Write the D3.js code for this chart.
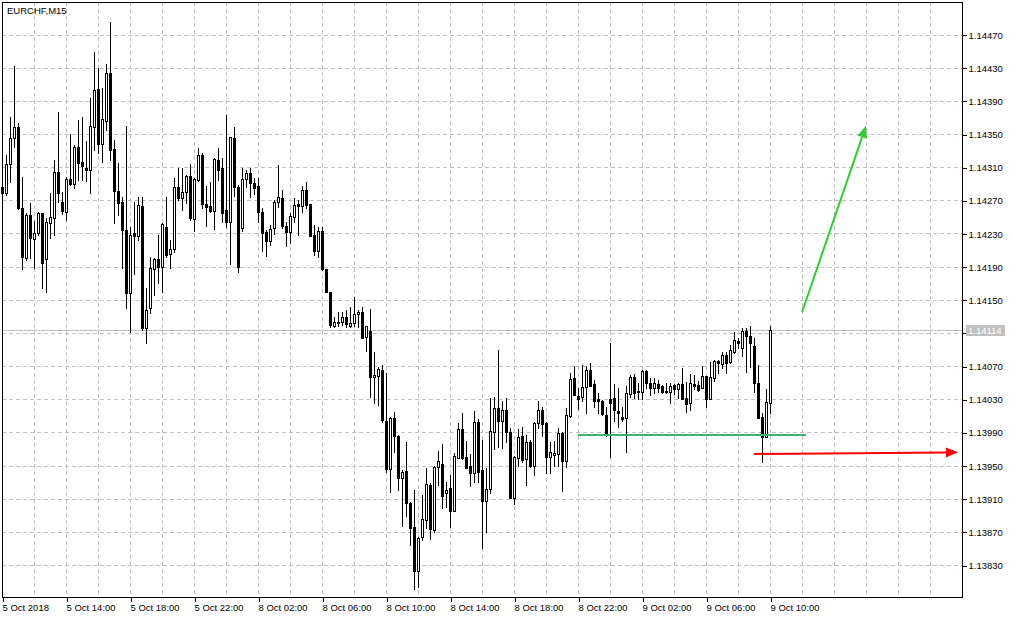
<!DOCTYPE html>
<html>
<head>
<meta charset="utf-8">
<title>EURCHF,M15</title>
<script src="https://cdn.jsdelivr.net/npm/d3@7"></script>
<style>
  body { margin: 0; background: #fff; }
  svg { display: block; font-family: "Liberation Sans", Arial, sans-serif; }
</style>
</head>
<body>
<svg id="drawing_region"></svg>
<script>
const symbolTitle = "EURCHF,M15";

// bottom labels, one every 16 bars (4 hours of M15)
const timeLabels = ["5 Oct 2018", "5 Oct 14:00", "5 Oct 18:00", "5 Oct 22:00", "8 Oct 02:00", "8 Oct 06:00",
    "8 Oct 10:00", "8 Oct 14:00", "8 Oct 18:00", "8 Oct 22:00", "9 Oct 02:00", "9 Oct 06:00", "9 Oct 10:00"];

const priceTicks = [1.14470, 1.14430, 1.14390, 1.14350, 1.14310, 1.14270, 1.14230, 1.14190, 1.14150,
    1.14110, 1.14070, 1.14030, 1.13990, 1.13950, 1.13910, 1.13870, 1.13830];

const opens = [
    1.14286,1.14279,1.14314,1.14345,1.14359,1.14261,1.14200,1.14252,1.14223,1.14231,
    1.14255,1.14199,1.14243,1.14249,1.14304,1.14268,1.14256,1.14296,1.14290,1.14334,
    1.14316,1.14309,1.14307,1.14359,1.14404,1.14338,1.14366,1.14424,1.14332,1.14281,
    1.14268,1.14234,1.14158,1.14231,1.14227,1.14263,1.14116,1.14140,1.14187,1.14199,
    1.14190,1.14238,1.14205,1.14211,1.14286,1.14273,1.14280,1.14299,1.14247,1.14295,
    1.14325,1.14266,1.14263,1.14257,1.14319,1.14309,1.14258,1.14244,1.14345,1.14286,
    1.14237,1.14296,1.14303,1.14291,1.14287,1.14256,1.14232,1.14221,1.14237,1.14268,
    1.14273,1.14239,1.14232,1.14250,1.14266,1.14263,1.14282,1.14266,1.14228,1.14209,
    1.14233,1.14187,1.14159,1.14118,1.14122,1.14123,1.14129,1.14118,1.14122,1.14133,
    1.14135,1.14105,1.14112,1.14057,1.14058,1.14065,1.14004,1.13946,1.14007,1.13986,
    1.13935,1.13943,1.13905,1.13876,1.13823,1.13864,1.13884,1.13926,1.13872,1.13948,
    1.13952,1.13917,1.13923,1.13895,1.13959,1.13994,1.13960,1.13949,1.13941,1.14003,
    1.13945,1.13907,1.13922,1.13990,1.14019,1.14004,1.14017,1.13990,1.13911,1.13959,
    1.13986,1.13958,1.13978,1.13949,1.14001,1.14017,1.14001,1.13960,1.13963,1.13964,
    1.13989,1.13955,1.14010,1.14056,1.14034,1.14033,1.14045,1.14065,1.14048,1.14030,
    1.14028,1.14011,1.14030,1.14031,1.14016,1.14009,1.14007,1.14036,1.14057,1.14040,
    1.14039,1.14064,1.14050,1.14044,1.14048,1.14046,1.14040,1.14039,1.14047,1.14042,
    1.14048,1.14031,1.14025,1.14048,1.14047,1.14044,1.14058,1.14030,1.14056,1.14076,
    1.14073,1.14083,1.14075,1.14087,1.14100,1.14092,1.14112,1.14106,1.14094,1.14050,
    1.14009,1.13984,1.14025];

const highs = [
    1.14291,1.14325,1.14371,1.14432,1.14363,1.14298,1.14255,1.14267,1.14245,1.14256,
    1.14255,1.14249,1.14279,1.14319,1.14377,1.14280,1.14298,1.14350,1.14337,1.14367,
    1.14371,1.14342,1.14393,1.14449,1.14430,1.14406,1.14435,1.14485,1.14343,1.14315,
    1.14274,1.14360,1.14238,1.14268,1.14274,1.14274,1.14164,1.14202,1.14200,1.14228,
    1.14243,1.14274,1.14222,1.14297,1.14309,1.14309,1.14301,1.14314,1.14297,1.14333,
    1.14327,1.14287,1.14292,1.14321,1.14333,1.14321,1.14373,1.14346,1.14359,1.14289,
    1.14309,1.14307,1.14309,1.14297,1.14297,1.14261,1.14234,1.14240,1.14270,1.14313,
    1.14282,1.14244,1.14255,1.14273,1.14270,1.14287,1.14292,1.14266,1.14240,1.14238,
    1.14238,1.14187,1.14159,1.14129,1.14135,1.14135,1.14138,1.14141,1.14153,1.14138,
    1.14141,1.14118,1.14139,1.14087,1.14069,1.14071,1.14062,1.14009,1.14015,1.13987,
    1.13945,1.13978,1.13906,1.13920,1.13864,1.13914,1.13947,1.13929,1.13949,1.13967,
    1.13976,1.13930,1.13939,1.13965,1.14001,1.14013,1.13980,1.13964,1.14016,1.14006,
    1.13981,1.13947,1.14031,1.14033,1.14089,1.14028,1.14031,1.13995,1.13961,1.13994,
    1.13996,1.13987,1.13981,1.14002,1.14028,1.14021,1.14002,1.13978,1.13980,1.13995,
    1.13990,1.14019,1.14062,1.14070,1.14044,1.14071,1.14070,1.14074,1.14053,1.14038,
    1.14029,1.14021,1.14098,1.14048,1.14044,1.14021,1.14046,1.14059,1.14060,1.14050,
    1.14065,1.14065,1.14056,1.14056,1.14053,1.14047,1.14050,1.14050,1.14048,1.14050,
    1.14068,1.14051,1.14060,1.14059,1.14052,1.14070,1.14058,1.14075,1.14077,1.14077,
    1.14087,1.14087,1.14095,1.14111,1.14104,1.14116,1.14116,1.14118,1.14104,1.14071,
    1.14013,1.14042,1.14118];

const lows = [
    1.14275,1.14276,1.14292,1.14334,1.14259,1.14187,1.14198,1.14200,1.14188,1.14228,
    1.14164,1.14159,1.14225,1.14228,1.14268,1.14254,1.14246,1.14289,1.14285,1.14295,
    1.14295,1.14293,1.14279,1.14331,1.14327,1.14316,1.14355,1.14319,1.14243,1.14252,
    1.14188,1.14140,1.14111,1.14181,1.14222,1.14114,1.14098,1.14134,1.14156,1.14170,
    1.14159,1.14202,1.14188,1.14208,1.14270,1.14258,1.14267,1.14246,1.14233,1.14293,
    1.14261,1.14239,1.14256,1.14235,1.14295,1.14244,1.14238,1.14193,1.14275,1.14184,
    1.14233,1.14286,1.14274,1.14278,1.14244,1.14209,1.14203,1.14216,1.14229,1.14262,
    1.14237,1.14215,1.14219,1.14244,1.14228,1.14256,1.14261,1.14227,1.14204,1.14202,
    1.14186,1.14159,1.14117,1.14117,1.14118,1.14120,1.14117,1.14117,1.14118,1.14117,
    1.14104,1.14088,1.14033,1.14025,1.14023,1.14003,1.13942,1.13918,1.13966,1.13920,
    1.13877,1.13889,1.13854,1.13801,1.13803,1.13860,1.13875,1.13861,1.13870,1.13926,
    1.13899,1.13900,1.13876,1.13895,1.13959,1.13958,1.13947,1.13925,1.13930,1.13930,
    1.13850,1.13870,1.13917,1.13970,1.13972,1.13971,1.13978,1.13911,1.13904,1.13949,
    1.13954,1.13926,1.13948,1.13939,1.13995,1.13986,1.13941,1.13941,1.13949,1.13949,
    1.13919,1.13948,1.14009,1.14035,1.14018,1.14028,1.14013,1.14046,1.14021,1.14013,
    1.14011,1.13986,1.13960,1.14004,1.13997,1.14004,1.13966,1.14033,1.14031,1.14030,
    1.14030,1.14044,1.14035,1.14037,1.14039,1.14037,1.14037,1.14025,1.14036,1.14031,
    1.14030,1.14015,1.14017,1.14042,1.14040,1.14044,1.14021,1.14030,1.14052,1.14062,
    1.14068,1.14062,1.14074,1.14086,1.14092,1.14082,1.14063,1.14069,1.14039,1.14007,
    1.13954,1.13984,1.14013];

const closes = [
    1.14279,1.14314,1.14345,1.14359,1.14261,1.14202,1.14252,1.14225,1.14231,1.14255,
    1.14194,1.14244,1.14250,1.14304,1.14279,1.14257,1.14296,1.14290,1.14334,1.14315,
    1.14311,1.14307,1.14360,1.14403,1.14338,1.14368,1.14424,1.14331,1.14281,1.14267,
    1.14234,1.14158,1.14228,1.14227,1.14264,1.14116,1.14138,1.14188,1.14199,1.14190,
    1.14241,1.14204,1.14211,1.14286,1.14273,1.14280,1.14299,1.14249,1.14296,1.14325,
    1.14266,1.14262,1.14257,1.14320,1.14307,1.14255,1.14244,1.14346,1.14286,1.14190,
    1.14296,1.14303,1.14291,1.14285,1.14256,1.14231,1.14221,1.14235,1.14268,1.14274,
    1.14239,1.14232,1.14251,1.14264,1.14263,1.14282,1.14264,1.14227,1.14209,1.14233,
    1.14187,1.14159,1.14120,1.14123,1.14123,1.14129,1.14121,1.14122,1.14133,1.14135,
    1.14104,1.14118,1.14057,1.14059,1.14066,1.14005,1.13946,1.14007,1.13986,1.13935,
    1.13942,1.13905,1.13875,1.13823,1.13862,1.13885,1.13928,1.13873,1.13948,1.13955,
    1.13913,1.13920,1.13895,1.13961,1.13994,1.13959,1.13947,1.13941,1.14003,1.13942,
    1.13907,1.13922,1.13992,1.14019,1.14004,1.14017,1.13990,1.13911,1.13960,1.13984,
    1.13957,1.13978,1.13949,1.14001,1.14017,1.14000,1.13960,1.13966,1.13965,1.13989,
    1.13955,1.14011,1.14054,1.14035,1.14030,1.14045,1.14065,1.14046,1.14028,1.14028,
    1.14012,1.13988,1.14025,1.14017,1.14013,1.14006,1.14038,1.14057,1.14038,1.14039,
    1.14064,1.14050,1.14044,1.14050,1.14044,1.14039,1.14039,1.14046,1.14042,1.14048,
    1.14030,1.14024,1.14050,1.14046,1.14041,1.14058,1.14030,1.14057,1.14076,1.14074,
    1.14083,1.14074,1.14089,1.14101,1.14098,1.14112,1.14106,1.14098,1.14050,1.14007,
    1.13984,1.14027,1.14114];

const lastPrice = 1.14114;

// drawn objects: [bar index, price] pairs
const levelLine = [[144, 1.13987], [201, 1.13987]];
const upArrow = [[200, 1.14135], [216, 1.14360]];
const downArrow = [[188, 1.13964], [239, 1.13966]];

class CandleChart {

    constructor( config ) {
        this.config = config;
        this.data = opens.map( (o, i) => ({ i: i, o: o, h: highs[i], l: lows[i], c: closes[i] }) );
        this.init();
    }

    init() {
        let self = this;
        const c = self.config;

        self.svg = d3.select( c.parent )
            .attr('width', c.width)
            .attr('height', c.height);

        self.svg.append('rect')
            .attr('width', c.width).attr('height', c.height)
            .attr('fill', '#fff');

        // bar index -> pixel, 4px per bar
        self.xscale = d3.scaleLinear()
            .domain([0, 240])
            .range([c.left, c.right]);

        self.yscale = d3.scaleLinear()
            .domain([1.13830, 1.14470])
            .range([565, 34.6]);

        self.grid = self.svg.append('g').attr('shape-rendering', 'crispEdges');
        self.chart = self.svg.append('g').attr('shape-rendering', 'crispEdges');
        self.objects = self.svg.append('g');
        self.frame = self.svg.append('g').attr('shape-rendering', 'crispEdges');
    }

    update() {
        this.render();
    }

    render() {
        let self = this;
        const c = self.config;
        const X = i => Math.round( self.xscale(i) );
        const Y = p => Math.round( self.yscale(p) );

        // dashed grid
        self.grid.selectAll('.hgrid')
            .data(priceTicks)
            .join('line')
            .attr('class', 'hgrid')
            .attr('x1', c.left).attr('x2', c.right)
            .attr('y1', d => Y(d) + 0.5).attr('y2', d => Y(d) + 0.5)
            .attr('stroke', '#c0c0c0')
            .attr('stroke-dasharray', '4,3');

        self.grid.selectAll('.vgrid')
            .data(d3.range(8, 240, 8))
            .join('line')
            .attr('class', 'vgrid')
            .attr('x1', d => X(d) + 0.5).attr('x2', d => X(d) + 0.5)
            .attr('y1', c.top).attr('y2', c.bottom)
            .attr('stroke', '#c0c0c0')
            .attr('stroke-dasharray', '4,3');

        // last price line
        self.grid.append('line')
            .attr('x1', c.left).attr('x2', c.right)
            .attr('y1', Y(lastPrice) + 0.5).attr('y2', Y(lastPrice) + 0.5)
            .attr('stroke', '#c0c0c0');

        // candles
        const candle = self.chart.selectAll('g.candle')
            .data(self.data)
            .join('g')
            .attr('class', 'candle');

        candle.append('line')
            .attr('x1', d => X(d.i) + 0.5).attr('x2', d => X(d.i) + 0.5)
            .attr('y1', d => Y(d.h)).attr('y2', d => Y(d.l) + 1)
            .attr('stroke', '#000');

        candle.filter(d => d.c <= d.o).append('rect')
            .attr('x', d => X(d.i) - 1)
            .attr('y', d => Y(d.o))
            .attr('width', 3)
            .attr('height', d => Y(d.c) - Y(d.o) + 1)
            .attr('fill', '#000');

        candle.filter(d => d.c > d.o).append('rect')
            .attr('x', d => X(d.i) - 0.5)
            .attr('y', d => Y(d.c) + 0.5)
            .attr('width', 2)
            .attr('height', d => Math.max(Y(d.o) - Y(d.c), 1))
            .attr('fill', '#fff')
            .attr('stroke', '#000');

        // user objects
        self.objects.append('line')
            .attr('x1', X(levelLine[0][0])).attr('x2', X(levelLine[1][0]))
            .attr('y1', Y(levelLine[0][1])).attr('y2', Y(levelLine[1][1]))
            .attr('stroke', '#3cb371')
            .attr('stroke-width', 2);

        self.drawArrow(upArrow, '#32cd32');
        self.drawArrow(downArrow, '#ff0000');

        // frame
        self.frame.append('rect')
            .attr('x', c.left + 0.5).attr('y', c.top + 0.5)
            .attr('width', c.right - c.left).attr('height', c.bottom - c.top)
            .attr('fill', 'none')
            .attr('stroke', '#000');

        // price axis; the tick hidden under the last price tag gets no label
        const fmt = d3.format('.5f');
        const yaxis = d3.axisRight(self.yscale)
            .tickValues(priceTicks)
            .tickFormat(fmt)
            .tickSize(4)
            .tickPadding(2);

        const yg = self.frame.append('g')
            .attr('transform', `translate(${c.right + 0.5}, 0.5)`)
            .call(yaxis);
        yg.select('.domain').remove();
        yg.selectAll('.tick')
            .filter(d => Math.abs(self.yscale(d) - self.yscale(lastPrice)) < 8)
            .select('text').remove();
        yg.selectAll('text')
            .attr('font-family', '"Liberation Sans", Arial, sans-serif')
            .attr('font-size', '9.5px')
            .attr('fill', '#000');

        // time axis
        const xaxis = d3.axisBottom(self.xscale)
            .tickValues(timeLabels.map((t, k) => k * 16))
            .tickFormat((d, k) => timeLabels[k])
            .tickSize(4)
            .tickPadding(3);

        const xg = self.frame.append('g')
            .attr('transform', `translate(0.5, ${c.bottom + 0.5})`)
            .call(xaxis);
        xg.select('.domain').remove();
        xg.selectAll('text')
            .attr('text-anchor', 'start')
            .attr('x', -0.5)
            .attr('font-family', '"Liberation Sans", Arial, sans-serif')
            .attr('font-size', '9.5px')
            .attr('fill', '#000');

        // last price tag
        const tag = self.frame.append('g');
        tag.append('rect')
            .attr('x', c.right + 4).attr('y', Y(lastPrice) - 5)
            .attr('width', 39).attr('height', 11)
            .attr('fill', '#c0c0c0');
        tag.append('text')
            .attr('x', c.right + 6).attr('y', Y(lastPrice) + 0.5)
            .attr('dy', '0.32em')
            .attr('font-size', '9.5px')
            .attr('fill', '#fff')
            .text(fmt(lastPrice));

        self.svg.append('text')
            .attr('x', 7).attr('y', 14)
            .attr('font-size', '9.5px')
            .attr('fill', '#000')
            .text(symbolTitle);
    }

    drawArrow( pts, color ) {
        let self = this;
        const x1 = self.xscale(pts[0][0]), y1 = self.yscale(pts[0][1]);
        const x2 = self.xscale(pts[1][0]), y2 = self.yscale(pts[1][1]);
        const ang = Math.atan2(y2 - y1, x2 - x1);
        const len = 12, half = 5;
        const bx = x2 - len * Math.cos(ang), by = y2 - len * Math.sin(ang);

        self.objects.append('line')
            .attr('x1', x1).attr('y1', y1)
            .attr('x2', bx).attr('y2', by)
            .attr('stroke', color)
            .attr('stroke-width', 2);

        self.objects.append('path')
            .attr('d', d3.line()([
                [x2, y2],
                [bx + half * Math.sin(ang), by - half * Math.cos(ang)],
                [bx - half * Math.sin(ang), by + half * Math.cos(ang)]
            ]) + 'Z')
            .attr('fill', color);
    }
}

const config = {
    parent: '#drawing_region',
    width: 1015,
    height: 619,
    left: 2,
    right: 962,
    top: 2,
    bottom: 597
};

const chart = new CandleChart( config );
chart.update();
</script>
</body>
</html>
